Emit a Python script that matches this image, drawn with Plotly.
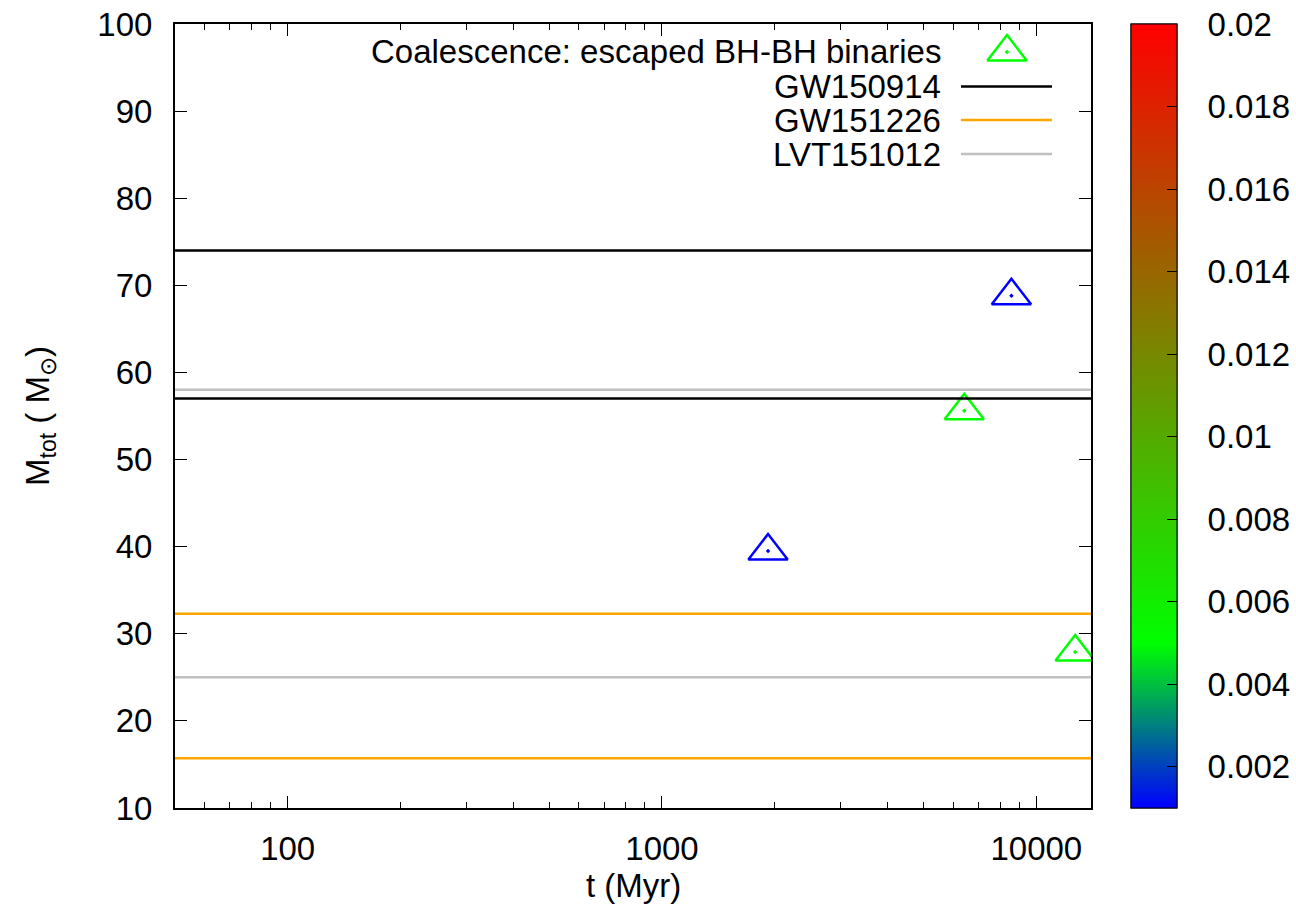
import math
import plotly.graph_objects as go

# ---------------- data ----------------
t_myr = [1920, 6420, 8580, 12700]          # coalescence time (Myr)
m_tot = [39.5, 55.6, 68.8, 27.9]           # total mass (Msun)
metallicity = [0.001, 0.005, 0.001, 0.005]  # colour value

gw_names = ["GW150914", "GW151226", "LVT151012"]
gw_low = [57.0, 15.7, 25.0]
gw_high = [74.0, 32.3, 58.0]
gw_colors = ["#000000", "#FFA500", "#C0C0C0"]

x_range = [50, 14000]
y_range = [10, 100]
x_tickvals = [100, 1000, 10000]
x_ticktext = ["100", "1000", "10000"]
y_tickvals = [10, 20, 30, 40, 50, 60, 70, 80, 90, 100]
y_ticktext = ["10", "20", "30", "40", "50", "60", "70", "80", "90", "100"]
cb_range = [0.001, 0.02]
cb_tickvals = [0.002, 0.004, 0.006, 0.008, 0.010, 0.012, 0.014, 0.016, 0.018, 0.020]
cb_ticktext = ["0.002", "0.004", "0.006", "0.008", "0.01", "0.012", "0.014", "0.016", "0.018", "0.02"]
scatter_label = "Coalescence: escaped BH-BH binaries"
x_title = "t (Myr)"
y_title = "M<sub>tot</sub> ( M<sub>⊙</sub>)"

# palette: blue -> green -> red
green_pos = (0.005 - cb_range[0]) / (cb_range[1] - cb_range[0])
colorscale = [[0.0, "rgb(0,0,255)"], [green_pos, "rgb(0,255,0)"], [1.0, "rgb(255,0,0)"]]

FONT = "Liberation Sans, Arial, sans-serif"
FS = 33
MSIZE = 34
MLW = 2.5

# ---------------- layout geometry (pixels) ----------------
W, H = 1296, 912
L, R, T, B = 175, 1091, 24, 808


def px_x(x):
    return (x - L) / (R - L)


def px_y(y):
    return (B - y) / (B - T)


minor_vals = [m * 10 ** e for e in range(1, 5) for m in range(2, 10)]

fig = go.Figure()

# main data
fig.add_trace(go.Scatter(
    x=t_myr, y=m_tot, mode="markers", showlegend=False,
    marker=dict(
        symbol="triangle-up-open-dot", size=MSIZE,
        color=metallicity, colorscale=colorscale, cmin=cb_range[0], cmax=cb_range[1],
        line=dict(width=MLW),
        showscale=True,
        colorbar=dict(
            x=px_x(1131), xanchor="left", xpad=0, ypad=0,
            y=0.5, yanchor="middle", len=1, lenmode="fraction",
            thickness=46, outlinecolor="black", outlinewidth=1,
            tickmode="array", tickvals=cb_tickvals, ticktext=cb_ticktext,
            ticks="outside", ticklen=24, tickcolor="rgba(0,0,0,0)",
            tickfont=dict(family=FONT, size=FS, color="black"),
        ),
    ),
))

# legend sample marker (overlay axes), also provides inside ticks for colorbar
leg_rows_y = [52, 86.5, 120, 154]
fig.add_trace(go.Scatter(
    x=[px_x(1007)], y=[px_y(leg_rows_y[0])], xaxis="x2", yaxis="y2",
    mode="markers", showlegend=False, hoverinfo="skip",
    marker=dict(
        symbol="triangle-up-open-dot", size=MSIZE,
        color=[metallicity[1]], colorscale=colorscale, cmin=cb_range[0], cmax=cb_range[1],
        line=dict(width=MLW),
        showscale=True,
        colorbar=dict(
            x=px_x(1131), xanchor="left", xpad=0, ypad=0,
            y=0.5, yanchor="middle", len=1, lenmode="fraction",
            thickness=46, outlinecolor="black", outlinewidth=1,
            tickmode="array", tickvals=cb_tickvals, showticklabels=False,
            ticks="inside", ticklen=10, tickcolor="black", tickwidth=1,
        ),
    ),
))

# legend texts and line samples
annotations = [dict(
    x=px_x(943), y=px_y(leg_rows_y[0]), xref="paper", yref="paper",
    text=scatter_label, showarrow=False, xanchor="right", yanchor="middle",
    font=dict(family=FONT, size=FS, color="black"))]
shapes = []
for name, c, ry in zip(gw_names, gw_colors, leg_rows_y[1:]):
    annotations.append(dict(
        x=px_x(943), y=px_y(ry), xref="paper", yref="paper",
        text=name, showarrow=False, xanchor="right", yanchor="middle",
        font=dict(family=FONT, size=FS, color="black")))
    shapes.append(dict(
        type="line", xref="paper", yref="paper",
        x0=px_x(961), x1=px_x(1052), y0=px_y(ry), y1=px_y(ry),
        line=dict(color=c, width=2.5)))

# x-axis title
annotations.append(dict(
    x=0.5, y=px_y(885), xref="paper", yref="paper", text=x_title,
    showarrow=False, xanchor="center", yanchor="middle",
    font=dict(family=FONT, size=FS, color="black")))

axis_common = dict(
    showline=True, linecolor="black", linewidth=2, mirror="allticks",
    ticks="inside", tickcolor="black", tickwidth=1,
    showgrid=False, zeroline=False,
    tickfont=dict(family=FONT, size=FS, color="black"),
)

fig.update_layout(
    width=W, height=H,
    margin=dict(l=L, r=W - R, t=T, b=H - B, autoexpand=False),
    paper_bgcolor="white", plot_bgcolor="white",
    font=dict(family=FONT, size=FS, color="black"),
    xaxis=dict(
        type="log", range=[math.log10(x_range[0]), math.log10(x_range[1])],
        tickmode="array", tickvals=x_tickvals, ticktext=x_ticktext, ticklen=12,
        minor=dict(tickmode="array", tickvals=minor_vals, ticks="inside", ticklen=6,
                   tickcolor="black", tickwidth=1, showgrid=False),
        ticklabelstandoff=10,
        **axis_common,
    ),
    yaxis=dict(
        range=y_range, tickmode="array", tickvals=y_tickvals, ticktext=y_ticktext,
        ticklen=12, ticklabelstandoff=14,
        title=dict(text=y_title, font=dict(family=FONT, size=FS), standoff=38),
        **axis_common,
    ),
    xaxis2=dict(overlaying="x", range=[0, 1], visible=False, anchor="y2"),
    yaxis2=dict(overlaying="y", range=[0, 1], visible=False, anchor="x2"),
    annotations=annotations,
    shapes=shapes,
)

# horizontal lines for the GW events (added after layout shapes so they are kept)
for name, lo, hi, c in zip(gw_names, gw_low, gw_high, gw_colors):
    for v in (lo, hi):
        fig.add_hline(y=v, line=dict(color=c, width=2.5))

fig.write_html("out.html")
